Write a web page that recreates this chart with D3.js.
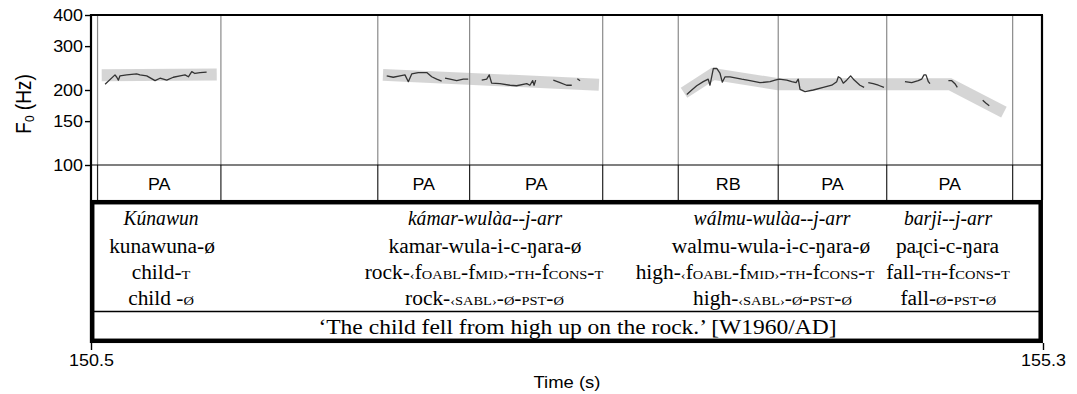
<!DOCTYPE html>
<html>
<head>
<meta charset="utf-8">
<script src="https://cdn.jsdelivr.net/npm/d3@7"></script>
<style>
  body { margin: 0; background: #fff; }
  svg { display: block; }
  .sans { font-family: "Liberation Sans", Arial, Helvetica, sans-serif; }
  .serif { font-family: "Liberation Serif", "Times New Roman", serif; }
</style>
</head>
<body>
<svg id="chart" width="1077" height="394"></svg>
<script>
// ---- Data -------------------------------------------------------------
const timeDomain = [150.5, 155.3];          // seconds
const hzDomain = [100, 400];                // F0 range (Hz)
const hzTicks = [100, 150, 200, 300, 400];
const timeTicks = [150.5, 155.3];

// Prosodic tier: interval boundaries (s) and the label of each interval
const tierBounds = [150.533, 151.155, 151.946, 152.409, 153.080, 153.461, 153.965, 154.512, 155.147];
const tierLabels = ["PA", "", "PA", "PA", "", "RB", "PA", "PA"];

// Measured F0 contour, [time (s), F0 (Hz)], one array per voiced stretch
const f0Kunawun = [[150.571,211],[150.621,230],[150.630,225],[150.638,219],[150.646,228],[150.680,230],[150.730,232],[150.747,230],[150.781,228],[150.823,218],[150.848,223],[150.882,219],[150.915,225],[150.949,228],[150.974,230],[150.991,226],[151.008,237],[151.024,233],[151.050,235],[151.083,236]];
const f0KamarA = [[151.991,228],[152.024,225],[152.058,228],[152.083,230],[152.100,216],[152.117,232],[152.150,235],[152.193,235],[152.218,226],[152.243,221],[152.268,217]];
const f0KamarB = [[152.285,223],[152.310,221],[152.344,218],[152.377,221],[152.402,221]];
const f0KamarC = [[152.470,219],[152.495,221],[152.508,230],[152.520,213],[152.562,212],[152.613,209],[152.646,208],[152.697,212],[152.713,209],[152.727,218],[152.734,209],[152.742,219]];
const f0KamarD = [[152.831,219],[152.865,214],[152.898,209],[152.924,209]];
const f0KamarE = [[152.952,222],[152.966,218]];
const f0WalmuA = [[153.504,192],[153.529,200],[153.554,208],[153.587,216],[153.612,221],[153.621,209],[153.638,244],[153.655,244],[153.671,234],[153.683,215],[153.697,226],[153.722,226],[153.781,221],[153.823,218],[153.873,214],[153.924,216],[153.949,219],[153.970,221],[154.008,219],[154.033,216],[154.055,214],[154.066,221],[154.075,201],[154.100,197],[154.142,200],[154.192,205],[154.235,209],[154.260,216],[154.268,226],[154.280,223],[154.293,213],[154.310,219],[154.330,228],[154.344,221],[154.377,209],[154.398,205]];
const f0WalmuB = [[154.419,214],[154.444,212],[154.470,209],[154.498,205]];
const f0BarjiA = [[154.604,216],[154.638,214],[154.671,218],[154.688,221],[154.700,230],[154.710,230],[154.722,216],[154.730,212]];
const f0BarjiB = [[154.823,218],[154.840,218],[154.856,212],[154.868,205]];
const f0BarjiC = [[154.996,182],[155.013,177],[155.029,173]];
const f0Pieces = [f0Kunawun, f0KamarA, f0KamarB, f0KamarC, f0KamarD, f0KamarE,
                  f0WalmuA, f0WalmuB, f0BarjiA, f0BarjiB, f0BarjiC];

// Stylised pitch targets (thick grey lines), [time (s), F0 (Hz)]
const styKunawun = [[150.554,229],[151.134,231]];
const styKamar = [[151.972,230],[153.061,210]];
const styWalmuBarji = [[153.490,195],[153.636,232],[153.964,211],[154.831,211],[155.103,163]];
const styPieces = [styKunawun, styKamar, styWalmuBarji];

// Interlinear gloss, one entry per word; {…} marks small capitals
const glossWords = ["Kúnawun", "kámar-wulàa--j-arr", "wálmu-wulàa--j-arr", "barji--j-arr"];
const glossSegments = ["kunawuna-ø", "kamar-wula-i-c-ŋara-ø", "walmu-wula-i-c-ŋara-ø", "paɻci-c-ŋara"];
const glossMorphs = ["child-{t}", "rock-{‹}f{oabl}-f{mid}{›}-{th}-f{cons}-{t}",
                     "high-{‹}f{oabl}-f{mid}{›}-{th}-f{cons}-{t}", "fall-{th}-f{cons}-{t}"];
const glossFunctions = ["child -{ø}", "rock-{‹sabl›}-{ø}-{pst}-{ø}", "high-{‹sabl›}-{ø}-{pst}-{ø}", "fall-{ø}-{pst}-{ø}"];
const translation = "‘The child fell from high up on the rock.’ [W1960/AD]";

// ---- Layout -----------------------------------------------------------
const L = { left: 91, right: 1043, top: 15, pitchBottom: 165, tierBottom: 200, boxBottom: 343 };
const SX = 1.12;      // horizontal stretch of sans text
const SXS = 1.07;     // horizontal stretch of roman serif text
const SXI = 0.98;     // horizontal stretch of italic serif text
const glossRowsY = [225, 253, 279, 305];
const glossColX = [
  [161, 485, 772, 948],
  [162, 485, 771, 947.5],
  [161, 484, 755, 948],
  [161, 484.5, 772.5, 948.3]
];
const translationX = 577.5, translationY = 333.5;

const svg = d3.select("#chart");
const x = d3.scaleLinear().domain(timeDomain).range([L.left, L.right]);
const y = d3.scaleLog().domain(hzDomain).range([L.pitchBottom, L.top]);

// Interval boundaries: grey through the pitch panel, dark in the tier row
const bounds = svg.append("g");
bounds.selectAll("line.up").data(tierBounds).join("line")
  .attr("x1", d => x(d)).attr("x2", d => x(d))
  .attr("y1", L.top).attr("y2", L.pitchBottom)
  .attr("stroke", "#8a8a8a").attr("stroke-width", 1.2);
bounds.selectAll("line.down").data(tierBounds).join("line")
  .attr("x1", d => x(d)).attr("x2", d => x(d))
  .attr("y1", L.pitchBottom).attr("y2", L.tierBottom)
  .attr("stroke", "#222").attr("stroke-width", 1.2);

// Stylised targets
const line = d3.line().x(d => x(d[0])).y(d => y(d[1]));
svg.append("g").selectAll("path").data(styPieces).join("path")
  .attr("d", line).attr("fill", "none")
  .attr("stroke", "#d3d3d3").attr("stroke-width", 12)
  .attr("stroke-linecap", "butt").attr("stroke-linejoin", "miter")
  .attr("opacity", 0.95);

// Boundary lines stay visible on top of the grey bands
bounds.raise();

// F0 contour
svg.append("g").selectAll("path").data(f0Pieces).join("path")
  .attr("d", line).attr("fill", "none")
  .attr("stroke", "#333").attr("stroke-width", 1.3)
  .attr("stroke-linejoin", "round");

// Frame of the pitch panel
svg.append("line").attr("x1", L.left).attr("x2", L.right)
  .attr("y1", L.top).attr("y2", L.top).attr("stroke", "#000").attr("stroke-width", 2.2);
svg.append("line").attr("x1", L.right - 1).attr("x2", L.right - 1)
  .attr("y1", L.top).attr("y2", L.tierBottom).attr("stroke", "#000").attr("stroke-width", 2.2);
svg.append("line").attr("x1", L.left).attr("x2", L.right)
  .attr("y1", L.pitchBottom).attr("y2", L.pitchBottom).attr("stroke", "#000").attr("stroke-width", 1.2);

// Y axis (log F0)
const yAxis = svg.append("g").attr("class", "sans")
  .attr("transform", `translate(${L.left},0)`)
  .call(d3.axisLeft(y).tickValues(hzTicks).tickFormat(d3.format("d")).tickSize(6).tickPadding(3));
yAxis.select(".domain").remove();
yAxis.selectAll(".tick line").attr("stroke", "#000").attr("stroke-width", 1.4);
yAxis.selectAll(".tick text")
  .attr("font-size", 16).attr("fill", "#000")
  .attr("x", -8 / SX).attr("transform", `scale(${SX},1)`);
svg.append("line").attr("x1", L.left).attr("x2", L.left)
  .attr("y1", L.top - 1).attr("y2", L.boxBottom)
  .attr("stroke", "#000").attr("stroke-width", 2.2);

// Tier labels
const tierData = tierLabels.map((lab, i) => ({ lab, a: tierBounds[i], b: tierBounds[i + 1] }))
  .filter(d => d.lab);
svg.append("g").attr("class", "sans").selectAll("g").data(tierData).join("g")
  .attr("transform", d => `translate(${x((d.a + d.b) / 2)},189.5) scale(${SX},1)`)
  .append("text").attr("text-anchor", "middle").attr("font-size", 16).text(d => d.lab);

// Gloss box
svg.append("rect")
  .attr("x", L.left + 1.2).attr("y", L.tierBottom + 2.2)
  .attr("width", L.right - L.left - 3.5).attr("height", L.boxBottom - L.tierBottom - 4.4)
  .attr("fill", "none").attr("stroke", "#000").attr("stroke-width", 4.5);
svg.append("line").attr("x1", L.left + 2).attr("x2", L.right - 4)
  .attr("y1", 311.5).attr("y2", 311.5).attr("stroke", "#000").attr("stroke-width", 1.5);

// Gloss text helper: {…} spans become small capitals
function addGloss(g, str) {
  const parts = str.split(/(\{[^}]*\})/).filter(s => s.length);
  parts.forEach(p => {
    if (p.startsWith("{")) {
      g.append("tspan").attr("font-size", 13.5).text(p.slice(1, -1).toUpperCase());
    } else {
      g.append("tspan").text(p);
    }
  });
}
const glossRows = [glossWords, glossSegments, glossMorphs, glossFunctions];
const gloss = svg.append("g").attr("class", "serif");
glossRows.forEach((row, r) => {
  row.forEach((str, c) => {
    const t = gloss.append("g")
      .attr("transform", `translate(${glossColX[r][c]},${glossRowsY[r]}) scale(${r === 0 ? SXI : SXS},1)`)
      .append("text").attr("text-anchor", "middle").attr("font-size", 20)
      .attr("font-style", r === 0 ? "italic" : "normal");
    addGloss(t, str);
  });
});
gloss.append("g")
  .attr("transform", `translate(${translationX},${translationY}) scale(${SXS},1)`)
  .append("text").attr("text-anchor", "middle").attr("font-size", 22).text(translation);

// X axis (time): only the end ticks
const xAxis = svg.append("g").attr("class", "sans")
  .attr("transform", `translate(0,${L.boxBottom})`)
  .call(d3.axisBottom(x).tickValues(timeTicks).tickFormat(d3.format(".1f")).tickSize(7).tickPadding(5));
xAxis.select(".domain").remove();
xAxis.selectAll(".tick line").attr("stroke", "#000").attr("stroke-width", 1.4);
xAxis.selectAll(".tick text").attr("font-size", 16).attr("fill", "#000")
  .attr("y", 12).attr("transform", `scale(${SX},1)`);

// Axis titles
svg.append("g").attr("class", "sans")
  .attr("transform", `translate(${(L.left + L.right) / 2},388) scale(${SX},1)`)
  .append("text").attr("text-anchor", "middle").attr("font-size", 16.5).text("Time (s)");
const yl = svg.append("g").attr("class", "sans")
  .attr("transform", `translate(31,104) scale(${SX},1) rotate(-90)`)
  .append("text").attr("text-anchor", "middle").attr("font-size", 19);
yl.append("tspan").text("F");
yl.append("tspan").attr("font-size", 12).attr("dy", 3).text("0");
yl.append("tspan").attr("dy", -3).text(" (Hz)");
</script>
</body>
</html>
